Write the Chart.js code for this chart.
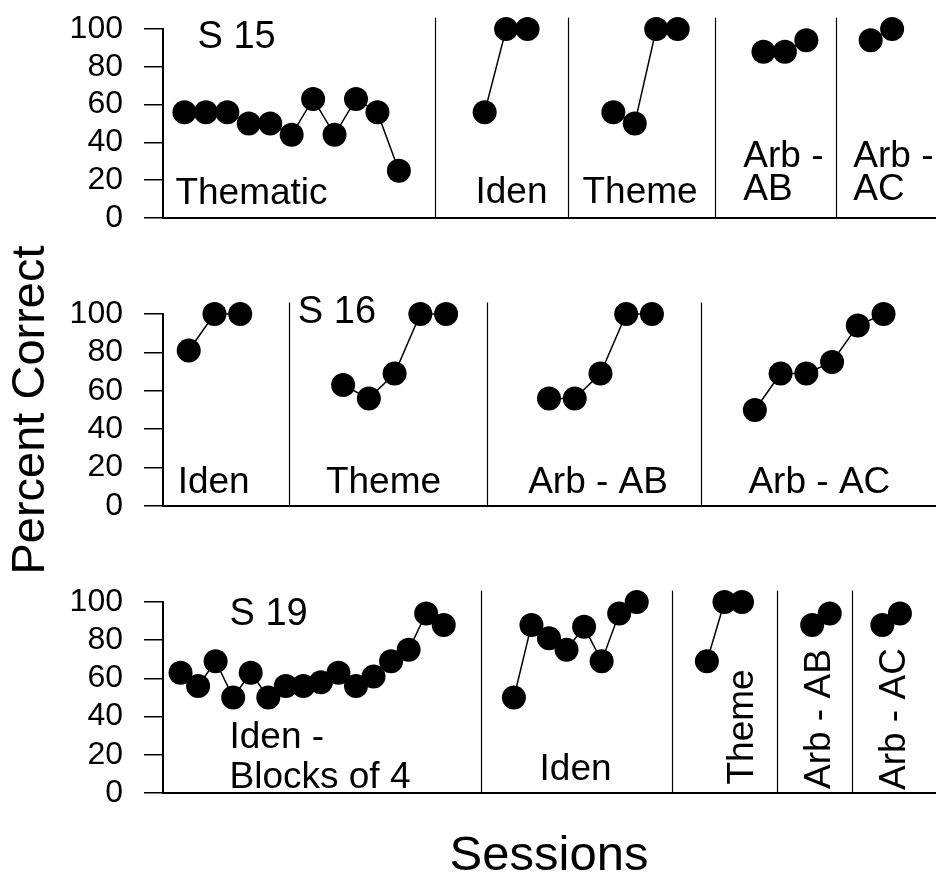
<!DOCTYPE html>
<html>
<head>
<meta charset="utf-8">
<script src="https://cdn.jsdelivr.net/npm/chart.js@4.4.1/dist/chart.umd.min.js"></script>
<style>
  html, body { margin: 0; padding: 0; background: #fff; }
  #wrap { position: relative; width: 939px; height: 878px; }
  #wrap canvas { position: absolute; left: 0; top: 0; }
</style>
</head>
<body>
<div id="wrap">
  <canvas id="s15" width="939" height="878"></canvas>
  <canvas id="s16" width="939" height="878"></canvas>
  <canvas id="s19" width="939" height="878"></canvas>
</div>
<script>
const FONT = "'Liberation Sans', Arial, Helvetica, sans-serif";

// y axis ticks (all panels)
const yTicks = [0, 20, 40, 60, 80, 100];

// S 15 : Thematic, Iden, Theme, Arb - AB, Arb - AC
const s15Sessions = [[1, 2, 3, 4, 5, 6, 7, 8, 9, 10, 11], [15, 16, 17], [21, 22, 23, 24], [28, 29, 30], [33, 34]];
const s15Values = [[56, 56, 56, 50, 50, 44, 63, 44, 63, 56, 25], [56, 100, 100], [56, 50, 100, 100], [88, 88, 94], [94, 100]];
const s15Breaks = [12.7, 18.9, 25.75, 31.4];

// S 16 : Iden, Theme, Arb - AB, Arb - AC
const s16Sessions = [[1, 2, 3], [7, 8, 9, 10, 11], [15, 16, 17, 18, 19], [23, 24, 25, 26, 27, 28]];
const s16Values = [[81, 100, 100], [63, 56, 69, 100, 100], [56, 56, 69, 100, 100], [50, 69, 69, 75, 94, 100]];
const s16Breaks = [4.9, 12.6, 20.9];

// S 19 : Iden - Blocks of 4, Iden, Theme, Arb - AB, Arb - AC
const s19Sessions = [[1, 2, 3, 4, 5, 6, 7, 8, 9, 10, 11, 12, 13, 14, 15, 16], [20, 21, 22, 23, 24, 25, 26, 27], [31, 32, 33], [37, 38], [41, 42]];
const s19Values = [[63, 56, 69, 50, 63, 50, 56, 56, 58, 63, 56, 61, 69, 75, 94, 88], [50, 88, 81, 75, 87, 69, 94, 100], [69, 100, 100], [88, 94], [88, 94]];
const s19Breaks = [18.15, 29.0, 35.0, 39.25];

function toPoints(xs, ys) {
    return xs.map((x, i) => ({ x: x, y: ys[i] }));
}

// phase change lines and phase labels
const phasePlugin = {
    id: 'phases',
    beforeDatasetsDraw(chart, args, opts) {
        const { ctx, scales: { x, y } } = chart;
        ctx.save();
        ctx.strokeStyle = '#000';
        ctx.lineWidth = 1.2;
        opts.breaks.forEach(b => {
            const px = Math.round(x.getPixelForValue(b)) + 0.5;
            ctx.beginPath();
            ctx.moveTo(px, y.getPixelForValue(0));
            ctx.lineTo(px, y.getPixelForValue(opts.lineTop));
            ctx.stroke();
        });
        ctx.restore();
    },
    afterDraw(chart, args, opts) {
        const { ctx, scales: { x, y } } = chart;
        opts.labels.forEach(l => {
            ctx.save();
            ctx.fillStyle = '#000';
            ctx.font = (l.size || 37) + 'px ' + FONT;
            ctx.textBaseline = 'alphabetic';
            ctx.translate(x.getPixelForValue(l.x), y.getPixelForValue(l.y));
            if (l.rotate) {
                ctx.rotate(-Math.PI / 2);
                ctx.textAlign = 'center';
            } else {
                ctx.textAlign = 'left';
            }
            ctx.fillText(l.text, 0, 0);
            ctx.restore();
        });
    }
};

function makePanel(id, sessions, values, cfg) {
    const datasets = sessions.map((xs, i) => ({
        data: toPoints(xs, values[i]),
        borderColor: '#000',
        borderWidth: 1.5,
        pointRadius: 12,
        pointHoverRadius: 12,
        pointBackgroundColor: '#000',
        pointBorderWidth: 0,
        tension: 0,
        clip: false
    }));

    return new Chart(document.getElementById(id), {
        type: 'line',
        data: { datasets: datasets },
        options: {
            responsive: false,
            animation: false,
            events: [],
            layout: { autoPadding: false, padding: { top: cfg.top, bottom: cfg.bottom, left: 0, right: 4 } },
            plugins: {
                legend: { display: false },
                tooltip: { enabled: false },
                phases: { breaks: cfg.breaks, labels: cfg.labels, lineTop: 106 }
            },
            scales: {
                x: {
                    type: 'linear',
                    min: 0,
                    max: cfg.xMax,
                    ticks: { display: false },
                    grid: { display: false },
                    border: { display: true, color: '#000', width: 2 },
                    title: cfg.xTitle || { display: false },
                    afterFit: s => { s.height = cfg.xHeight; s.paddingLeft = 0; s.paddingRight = 0; }
                },
                y: {
                    min: 0,
                    max: 100,
                    afterBuildTicks: s => { s.ticks = yTicks.map(v => ({ value: v })); },
                    ticks: { autoSkip: false, padding: 21, color: '#000', font: { family: FONT, size: 32 } },
                    grid: { drawOnChartArea: false, drawTicks: true, tickLength: 19, color: '#000', lineWidth: 1.5 },
                    border: { display: true, color: '#000', width: 2 },
                    title: cfg.yTitle || { display: false },
                    afterFit: s => { s.width = 163; s.paddingTop = 0; s.paddingBottom = 0; }
                }
            }
        },
        plugins: [phasePlugin]
    });
}

makePanel('s15', s15Sessions, s15Values, {
    top: 29, bottom: 660, xHeight: 0, xMax: 36, breaks: s15Breaks,
    labels: [
        { text: 'S 15', x: 1.61, y: 90, size: 38 },
        { text: 'Thematic', x: 0.58, y: 7.4 },
        { text: 'Iden', x: 14.57, y: 7.9 },
        { text: 'Theme', x: 19.56, y: 7.9 },
        { text: 'Arb -', x: 27.06, y: 27 },
        { text: 'AB', x: 27.06, y: 9.5 },
        { text: 'Arb -', x: 32.19, y: 27 },
        { text: 'AC', x: 32.19, y: 9.5 }
    ]
});

makePanel('s16', s16Sessions, s16Values, {
    top: 314, bottom: 372, xHeight: 0, xMax: 30, breaks: s16Breaks,
    yTitle: { display: true, text: 'Percent Correct', color: '#000', padding: { top: 3, bottom: 0 }, font: { family: FONT, size: 47 } },
    labels: [
        { text: 'S 16', x: 5.24, y: 95.3, size: 38 },
        { text: 'Iden', x: 0.57, y: 6.8 },
        { text: 'Theme', x: 6.33, y: 6.8 },
        { text: 'Arb - AB', x: 14.19, y: 6.8 },
        { text: 'Arb - AC', x: 22.75, y: 6.8 }
    ]
});

makePanel('s19', s19Sessions, s19Values, {
    top: 602, bottom: 0, xHeight: 85, xMax: 44, breaks: s19Breaks,
    xTitle: { display: true, text: 'Sessions', color: '#000', padding: { top: 0, bottom: 2 }, font: { family: FONT, size: 49, lineHeight: 0.8 } },
    labels: [
        { text: 'S 19', x: 3.79, y: 88, size: 38 },
        { text: 'Iden -', x: 3.79, y: 23.6 },
        { text: 'Blocks of 4', x: 3.79, y: 2.6 },
        { text: 'Iden', x: 21.46, y: 6.8 },
        { text: 'Theme', x: 33.61, y: 34.6, rotate: true },
        { text: 'Arb - AB', x: 38.0, y: 38.7, rotate: true },
        { text: 'Arb - AC', x: 42.28, y: 38.7, rotate: true }
    ]
});
</script>
</body>
</html>
